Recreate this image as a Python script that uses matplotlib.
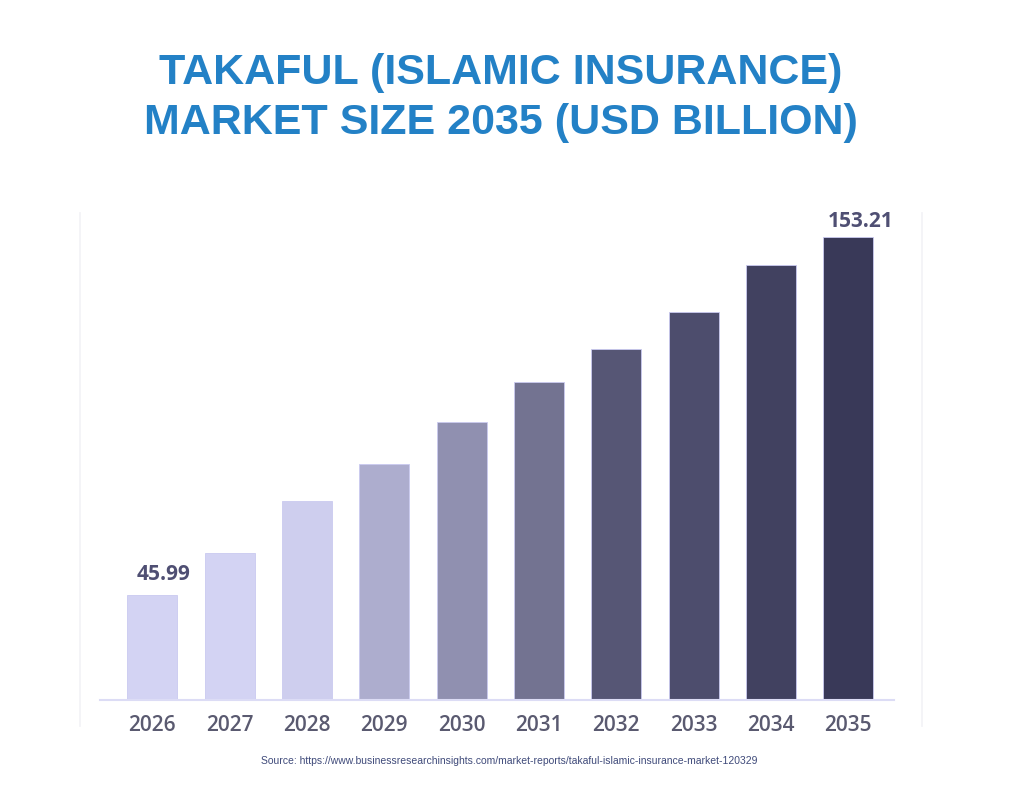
import matplotlib
matplotlib.use("Agg")
import matplotlib.pyplot as plt
from matplotlib.lines import Line2D

years = ["2026", "2027", "2028", "2029", "2030", "2031", "2032", "2033", "2034", "2035"]
values = [45.99, 58.59, 74.19, 85.14, 97.85, 109.62, 119.74, 130.69, 144.95, 153.21]
bar_colors = ["#D3D3F3", "#D3D3F3", "#CECEEE", "#ADADCE", "#9090B0",
              "#737391", "#565675", "#4D4D6D", "#414160", "#393958"]
labelled = {0: "45.99", 9: "153.21"}

title = "TAKAFUL (ISLAMIC INSURANCE)\nMARKET SIZE 2035 (USD BILLION)"
source = "Source: https://www.businessresearchinsights.com/market-reports/takaful-islamic-insurance-market-120329"

W, H = 1024, 812
fig = plt.figure(figsize=(W / 100, H / 100), dpi=100)
fig.patch.set_facecolor("white")

ax = fig.add_axes([100 / W, 1 - 701 / H, (894 - 100) / W, (701 - 215) / H])
x = list(range(len(years)))
ax.bar(x, values, width=0.646, color=bar_colors, edgecolor="#CACAF0", linewidth=0.6, zorder=2)
ax.set_xlim(-0.675, 9.59)
ax.set_ylim(14.49, 160.1)

for s in ["top", "right", "left"]:
    ax.spines[s].set_visible(False)
ax.spines["bottom"].set_color("#DCDCF5")
ax.spines["bottom"].set_linewidth(1.5)
ax.set_yticks([])
ax.set_xticks(x)
ax.set_xticklabels(years, fontsize=15, color="#5A5A70", fontfamily="Open Sans", fontweight="semibold")
ax.tick_params(axis="x", length=0, pad=10)

offsets = {0: (8, 8), 9: (8.5, 4)}
for i, txt in labelled.items():
    ax.annotate(txt, (x[i], values[i]), xytext=offsets[i], textcoords="offset points",
                ha="center", va="bottom", fontsize=15, color="#4F4F73",
                fontfamily="Open Sans", fontweight="bold")

# faint frame lines
fig.add_artist(Line2D([80 / W, 80 / W], [1 - 214 / H, 1 - 727 / H], color="#F2F2F6", lw=1.2))
fig.add_artist(Line2D([922 / W, 922 / W], [1 - 214 / H, 1 - 727 / H], color="#F2F2F6", lw=1.2))

fig.text(501 / W, 1 - 98 / H, title, ha="center", va="center", fontsize=31,
         fontfamily="Liberation Sans", fontweight="bold", color="#2381C6", linespacing=1.32)
fig.text(0.497, 1 - 761 / H, source, ha="center", va="center", fontsize=7.5,
         fontfamily="Liberation Sans", color="#3F4A7A")

fig.savefig("out.png", dpi=100)
